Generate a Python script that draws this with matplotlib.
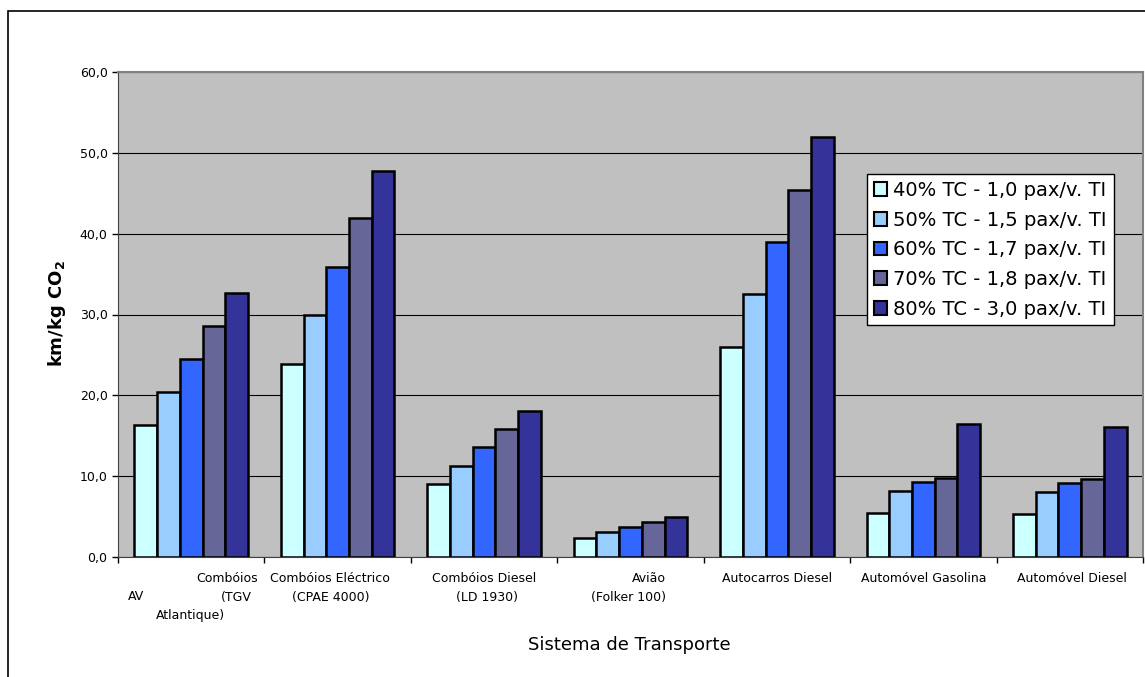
import matplotlib
matplotlib.use('Agg')
import numpy as np
import matplotlib.pyplot as plt
from matplotlib.patches import Rectangle
from matplotlib.ticker import FuncFormatter, FixedLocator

plt.rcParams['font.family'] = ['DejaVu Sans']

# series names and values (km/kg CO2), one value per transport system
series_names = ['40% TC - 1,0 pax/v. TI', '50% TC - 1,5 pax/v. TI', '60% TC - 1,7 pax/v. TI',
                '70% TC - 1,8 pax/v. TI', '80% TC - 3,0 pax/v. TI']
s40 = [16.3, 23.9, 9.0, 2.4, 26.0, 5.4, 5.3]
s50 = [20.4, 29.9, 11.3, 3.1, 32.5, 8.2, 8.0]
s60 = [24.5, 35.9, 13.6, 3.7, 39.0, 9.3, 9.1]
s70 = [28.6, 41.9, 15.8, 4.3, 45.4, 9.8, 9.7]
s80 = [32.6, 47.8, 18.1, 4.9, 51.9, 16.5, 16.1]
colors = ['#CCFFFF', '#99CCFF', '#3366FF', '#666699', '#333399']

W, H = 1145, 677
fig = plt.figure(figsize=(W / 100, H / 100), dpi=100)
ax = fig.add_axes([118 / W, (H - 557) / H, (1143 - 118) / W, 485 / H])
ax.set_facecolor('#C0C0C0')

# outer chart border (right/bottom cut off in the original)
top = 1 - 11 / H
fig.add_artist(Rectangle((8 / W, -0.2), 1.2, top + 0.2,
                         transform=fig.transFigure, fill=False,
                         edgecolor='black', linewidth=1.2, clip_on=False))

x = np.arange(7)
w = 0.155
all_series = [s40, s50, s60, s70, s80]
for j, (vals, name, c) in enumerate(zip(all_series, series_names, colors)):
    ax.bar(x + (j - 2) * w, vals, w, color=c, edgecolor='black', linewidth=1.8,
           label=name, zorder=3)

ax.set_xlim(-0.5, 6.5)
ax.set_ylim(0, 60)
ax.set_yticks(np.arange(0, 61, 10))
ax.yaxis.set_major_formatter(FuncFormatter(lambda v, p: f'{v:.1f}'.replace('.', ',')))
ax.yaxis.grid(True, color='black', linewidth=0.8, zorder=0)
ax.set_axisbelow(True)
ax.tick_params(axis='y', direction='out', length=4, width=1, pad=3.5, labelsize=9)

ax.set_xticks([])
ax.xaxis.set_minor_locator(FixedLocator(np.arange(-0.5, 7, 1)))
ax.tick_params(axis='x', which='minor', direction='out', length=4, width=1)

for s in ['top', 'right']:
    ax.spines[s].set_color('#808080')
    ax.spines[s].set_linewidth(1.5)
ax.spines['left'].set_color('#404040')
ax.spines['bottom'].set_color('#404040')


def px2x(px):
    return (px - 118) / 146.5 - 0.5


def py2y(py):
    return (557 - py) / 485


line_y = [579, 597, 615]
labels = [
    ('Combóios', 258, 0, 'right'), ('AV', 128, 1, 'left'), ('(TGV', 252, 1, 'right'),
    ('Atlantique)', 191, 2, 'center'),
    ('Combóios Eléctrico', 330, 0, 'center'), ('(CPAE 4000)', 331, 1, 'center'),
    ('Combóios Diesel', 484, 0, 'center'), ('(LD 1930)', 487, 1, 'center'),
    ('Avião', 666, 0, 'right'), ('(Folker 100)', 666, 1, 'right'),
    ('Autocarros Diesel', 777, 0, 'center'),
    ('Automóvel Gasolina', 924, 0, 'center'),
    ('Automóvel Diesel', 1072, 0, 'center'),
]
trans = ax.get_xaxis_transform()
for txt, px, ln, ha in labels:
    ax.text(px2x(px), py2y(line_y[ln]), txt, transform=trans, ha=ha, va='center',
            fontsize=9, clip_on=False)

fig.text(629 / W, 1 - 645 / H, 'Sistema de Transporte', ha='center', va='center',
         fontsize=13)
fig.text(57 / W, 1 - 314 / H, r'km/kg CO$_\mathbf{2}$', ha='center', va='center',
         rotation=90, fontsize=13, fontweight='bold')

leg = ax.legend(loc='upper left', bbox_to_anchor=((867 - 118) / 1025, (557 - 174) / 485),
                borderaxespad=0, fontsize=14, frameon=True, fancybox=False, framealpha=1,
                handlelength=0.7, handleheight=0.7, handletextpad=0.3,
                labelspacing=0.55, borderpad=0.35)
leg.get_frame().set_edgecolor('black')
leg.get_frame().set_facecolor('white')
leg.get_frame().set_linewidth(1.0)
for p in leg.get_patches():
    p.set_linewidth(1.5)

fig.savefig('out.png', dpi=100)
